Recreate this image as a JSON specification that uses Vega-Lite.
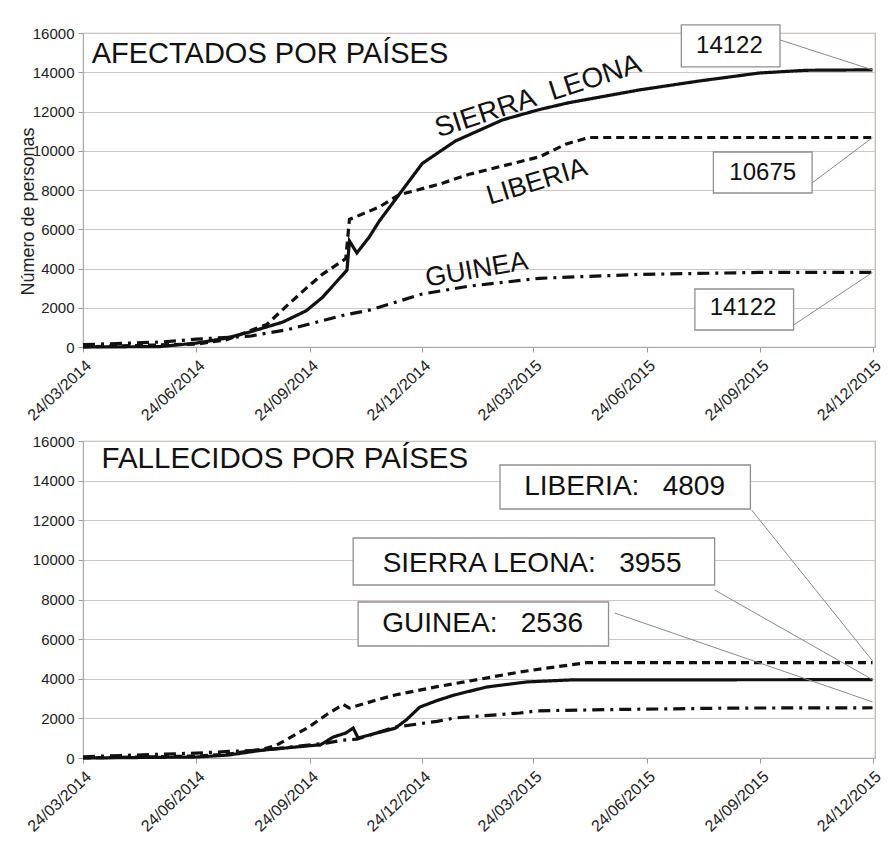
{
  "$schema": "https://vega.github.io/schema/vega-lite/v6.json",
  "background": "white",
  "padding": {"left": 18, "top": 23, "right": 5, "bottom": 5},
  "spacing": 94,
  "bounds": "flush",
  "config": {
    "font": "Liberation Sans",
    "view": {"stroke": "#bdb6b2", "strokeWidth": 1.2},
    "axisY": {
      "labelFont": "Liberation Sans", "titleFont": "Liberation Sans",
      "labelFontSize": 15, "labelColor": "#222", "gridColor": "#cdc6c2", "gridWidth": 1.2,
      "tickColor": "#999", "domainColor": "#aaa", "tickSize": 5, "labelPadding": 4,
      "titleFontSize": 18, "titleFontWeight": "normal", "titleColor": "#222"
    },
    "axisX": {
      "labelFont": "Liberation Sans", "labelAngle": -43, "labelFontSize": 16, "labelColor": "#222",
      "grid": false, "tickColor": "#999", "domainColor": "#aaa", "tickSize": 5,
      "labelOverlap": false, "labelBound": false, "labelFlush": false, "labelPadding": 5
    }
  },
  "datasets": {
    "afectados": [
      {"date": "2014-03-24", "country": "SIERRA LEONA", "value": 0},
      {"date": "2014-05-25", "country": "SIERRA LEONA", "value": 20},
      {"date": "2014-06-24", "country": "SIERRA LEONA", "value": 200},
      {"date": "2014-07-18", "country": "SIERRA LEONA", "value": 450},
      {"date": "2014-08-06", "country": "SIERRA LEONA", "value": 760},
      {"date": "2014-09-02", "country": "SIERRA LEONA", "value": 1270},
      {"date": "2014-09-21", "country": "SIERRA LEONA", "value": 1850},
      {"date": "2014-10-04", "country": "SIERRA LEONA", "value": 2520},
      {"date": "2014-10-24", "country": "SIERRA LEONA", "value": 3920},
      {"date": "2014-10-26", "country": "SIERRA LEONA", "value": 5400},
      {"date": "2014-11-01", "country": "SIERRA LEONA", "value": 4790},
      {"date": "2014-11-11", "country": "SIERRA LEONA", "value": 5600},
      {"date": "2014-11-19", "country": "SIERRA LEONA", "value": 6400},
      {"date": "2014-12-05", "country": "SIERRA LEONA", "value": 7750},
      {"date": "2014-12-24", "country": "SIERRA LEONA", "value": 9350},
      {"date": "2015-01-07", "country": "SIERRA LEONA", "value": 9950},
      {"date": "2015-01-20", "country": "SIERRA LEONA", "value": 10500},
      {"date": "2015-02-27", "country": "SIERRA LEONA", "value": 11570},
      {"date": "2015-03-29", "country": "SIERRA LEONA", "value": 12100},
      {"date": "2015-04-22", "country": "SIERRA LEONA", "value": 12450},
      {"date": "2015-06-18", "country": "SIERRA LEONA", "value": 13100},
      {"date": "2015-08-05", "country": "SIERRA LEONA", "value": 13550},
      {"date": "2015-09-23", "country": "SIERRA LEONA", "value": 13960},
      {"date": "2015-10-31", "country": "SIERRA LEONA", "value": 14100},
      {"date": "2015-12-24", "country": "SIERRA LEONA", "value": 14122},
      {"date": "2014-03-24", "country": "LIBERIA", "value": 0},
      {"date": "2014-04-23", "country": "LIBERIA", "value": 60},
      {"date": "2014-06-24", "country": "LIBERIA", "value": 150},
      {"date": "2014-07-18", "country": "LIBERIA", "value": 360},
      {"date": "2014-08-20", "country": "LIBERIA", "value": 1150},
      {"date": "2014-09-07", "country": "LIBERIA", "value": 2200},
      {"date": "2014-09-21", "country": "LIBERIA", "value": 3000},
      {"date": "2014-10-04", "country": "LIBERIA", "value": 3700},
      {"date": "2014-10-23", "country": "LIBERIA", "value": 4500},
      {"date": "2014-10-26", "country": "LIBERIA", "value": 6500},
      {"date": "2014-11-19", "country": "LIBERIA", "value": 7130},
      {"date": "2014-12-05", "country": "LIBERIA", "value": 7750},
      {"date": "2015-01-07", "country": "LIBERIA", "value": 8300},
      {"date": "2015-01-31", "country": "LIBERIA", "value": 8800},
      {"date": "2015-03-29", "country": "LIBERIA", "value": 9690},
      {"date": "2015-04-20", "country": "LIBERIA", "value": 10350},
      {"date": "2015-05-08", "country": "LIBERIA", "value": 10675},
      {"date": "2015-12-24", "country": "LIBERIA", "value": 10675},
      {"date": "2014-03-24", "country": "GUINEA", "value": 120},
      {"date": "2014-05-25", "country": "GUINEA", "value": 250},
      {"date": "2014-06-24", "country": "GUINEA", "value": 400},
      {"date": "2014-08-06", "country": "GUINEA", "value": 550},
      {"date": "2014-09-07", "country": "GUINEA", "value": 900},
      {"date": "2014-10-22", "country": "GUINEA", "value": 1630},
      {"date": "2014-11-12", "country": "GUINEA", "value": 1890},
      {"date": "2014-12-24", "country": "GUINEA", "value": 2700},
      {"date": "2015-01-31", "country": "GUINEA", "value": 3100},
      {"date": "2015-03-29", "country": "GUINEA", "value": 3500},
      {"date": "2015-06-18", "country": "GUINEA", "value": 3700},
      {"date": "2015-09-23", "country": "GUINEA", "value": 3800},
      {"date": "2015-12-24", "country": "GUINEA", "value": 3804}
    ],
    "fallecidos": [
      {"date": "2014-03-24", "country": "SIERRA LEONA", "value": 0},
      {"date": "2014-06-24", "country": "SIERRA LEONA", "value": 50},
      {"date": "2014-07-20", "country": "SIERRA LEONA", "value": 150},
      {"date": "2014-08-17", "country": "SIERRA LEONA", "value": 400},
      {"date": "2014-09-29", "country": "SIERRA LEONA", "value": 650},
      {"date": "2014-10-02", "country": "SIERRA LEONA", "value": 650},
      {"date": "2014-10-13", "country": "SIERRA LEONA", "value": 1060},
      {"date": "2014-10-23", "country": "SIERRA LEONA", "value": 1260},
      {"date": "2014-10-29", "country": "SIERRA LEONA", "value": 1510},
      {"date": "2014-11-02", "country": "SIERRA LEONA", "value": 1010},
      {"date": "2014-11-17", "country": "SIERRA LEONA", "value": 1260},
      {"date": "2014-12-02", "country": "SIERRA LEONA", "value": 1500},
      {"date": "2014-12-11", "country": "SIERRA LEONA", "value": 1920},
      {"date": "2014-12-22", "country": "SIERRA LEONA", "value": 2570},
      {"date": "2015-01-05", "country": "SIERRA LEONA", "value": 2900},
      {"date": "2015-01-19", "country": "SIERRA LEONA", "value": 3180},
      {"date": "2015-02-14", "country": "SIERRA LEONA", "value": 3580},
      {"date": "2015-03-19", "country": "SIERRA LEONA", "value": 3840},
      {"date": "2015-04-23", "country": "SIERRA LEONA", "value": 3940},
      {"date": "2015-12-24", "country": "SIERRA LEONA", "value": 3955},
      {"date": "2014-03-24", "country": "LIBERIA", "value": 0},
      {"date": "2014-06-24", "country": "LIBERIA", "value": 100},
      {"date": "2014-07-20", "country": "LIBERIA", "value": 200},
      {"date": "2014-08-17", "country": "LIBERIA", "value": 450},
      {"date": "2014-08-28", "country": "LIBERIA", "value": 650},
      {"date": "2014-09-23", "country": "LIBERIA", "value": 1560},
      {"date": "2014-10-07", "country": "LIBERIA", "value": 2170},
      {"date": "2014-10-21", "country": "LIBERIA", "value": 2700},
      {"date": "2014-10-26", "country": "LIBERIA", "value": 2520},
      {"date": "2014-11-17", "country": "LIBERIA", "value": 2930},
      {"date": "2014-12-02", "country": "LIBERIA", "value": 3180},
      {"date": "2015-01-05", "country": "LIBERIA", "value": 3600},
      {"date": "2015-01-19", "country": "LIBERIA", "value": 3750},
      {"date": "2015-03-13", "country": "LIBERIA", "value": 4340},
      {"date": "2015-04-10", "country": "LIBERIA", "value": 4590},
      {"date": "2015-05-06", "country": "LIBERIA", "value": 4809},
      {"date": "2015-12-24", "country": "LIBERIA", "value": 4809},
      {"date": "2014-03-24", "country": "GUINEA", "value": 60},
      {"date": "2014-06-24", "country": "GUINEA", "value": 250},
      {"date": "2014-07-20", "country": "GUINEA", "value": 330},
      {"date": "2014-08-17", "country": "GUINEA", "value": 400},
      {"date": "2014-10-07", "country": "GUINEA", "value": 750},
      {"date": "2014-10-20", "country": "GUINEA", "value": 900},
      {"date": "2014-11-01", "country": "GUINEA", "value": 950},
      {"date": "2014-12-02", "country": "GUINEA", "value": 1560},
      {"date": "2015-01-05", "country": "GUINEA", "value": 1850},
      {"date": "2015-01-19", "country": "GUINEA", "value": 2020},
      {"date": "2015-03-13", "country": "GUINEA", "value": 2270},
      {"date": "2015-03-27", "country": "GUINEA", "value": 2380},
      {"date": "2015-06-02", "country": "GUINEA", "value": 2450},
      {"date": "2015-09-01", "country": "GUINEA", "value": 2520},
      {"date": "2015-12-24", "country": "GUINEA", "value": 2536}
    ],
    "top_boxes": [
      {"date": "2015-07-22", "date2": "2015-10-10", "value": 14270, "value2": 16410},
      {"date": "2015-08-17", "date2": "2015-11-05", "value": 7848, "value2": 9937},
      {"date": "2015-08-02", "date2": "2015-10-21", "value": 866, "value2": 2956}
    ],
    "top_leaders": [
      {"date": "2015-10-10", "date2": "2015-12-24", "value": 15645, "value2": 14122},
      {"date": "2015-11-05", "date2": "2015-12-24", "value": 8357, "value2": 10675},
      {"date": "2015-10-21", "date2": "2015-12-24", "value": 1121, "value2": 3804}
    ],
    "top_numbers": [
      {"date": "2015-08-30", "value": 14982, "label": "14122"},
      {"date": "2015-09-26", "value": 8510, "label": "10675"},
      {"date": "2015-09-10", "value": 1631, "label": "14122"}
    ],
    "top_title": [
      {"date": "2014-03-31", "value": 14473, "label": "AFECTADOS POR PAÍSES"}
    ],
    "top_countries": [
      {"date": "2015-03-28", "value": 12750, "label": "SIERRA\u00a0\u00a0LEONA"},
      {"date": "2015-03-27", "value": 8408, "label": "LIBERIA"},
      {"date": "2015-02-06", "value": 3924, "label": "GUINEA"}
    ],
    "bottom_boxes": [
      {"date": "2015-02-25", "date2": "2015-09-16", "value": 12567, "value2": 14788},
      {"date": "2014-10-29", "date2": "2015-08-18", "value": 8731, "value2": 11103},
      {"date": "2014-11-02", "date2": "2015-05-24", "value": 5653, "value2": 7873}
    ],
    "bottom_leaders": [
      {"date": "2015-09-17", "date2": "2015-12-24", "value": 12517, "value2": 4900},
      {"date": "2015-08-18", "date2": "2015-12-24", "value": 8479, "value2": 3955},
      {"date": "2015-05-29", "date2": "2015-12-24", "value": 7318, "value2": 2830}
    ],
    "bottom_labels": [
      {"date": "2015-06-06", "value": 13274, "label": "LIBERIA:\u00a0\u00a0\u00a04809"},
      {"date": "2015-03-23", "value": 9387, "label": "SIERRA LEONA:\u00a0\u00a0\u00a03955"},
      {"date": "2015-02-11", "value": 6359, "label": "GUINEA:\u00a0\u00a0\u00a02536"}
    ],
    "bottom_title": [
      {"date": "2014-04-08", "value": 14636, "label": "FALLECIDOS POR PAÍSES"}
    ]
  },
  "vconcat": [
    {
      "width": 792,
      "height": 314,
      "layer": [
        {
          "data": {"name": "afectados"},
          "mark": {"type": "line", "color": "#111", "strokeWidth": 3.2},
          "encoding": {
            "x": {
              "field": "date", "type": "temporal", "title": null,
              "scale": {"type": "utc", "domain": [{"year": 2014, "month": 3, "date": 24, "utc": true}, {"year": 2015, "month": 12, "date": 26, "utc": true}]},
              "axis": {
                "values": [
                  {"year": 2014, "month": 3, "date": 24, "utc": true},
                  {"year": 2014, "month": 6, "date": 24, "utc": true},
                  {"year": 2014, "month": 9, "date": 24, "utc": true},
                  {"year": 2014, "month": 12, "date": 24, "utc": true},
                  {"year": 2015, "month": 3, "date": 24, "utc": true},
                  {"year": 2015, "month": 6, "date": 24, "utc": true},
                  {"year": 2015, "month": 9, "date": 24, "utc": true},
                  {"year": 2015, "month": 12, "date": 24, "utc": true}
                ],
                "format": "%d/%m/%Y"
              }
            },
            "y": {
              "field": "value", "type": "quantitative", "title": "Número de personas",
              "scale": {"domain": [0, 16000]},
              "axis": {"values": [0, 2000, 4000, 6000, 8000, 10000, 12000, 14000, 16000], "format": "d", "titleX": -50, "titleY": 178, "titleBaseline": "alphabetic"}
            },
            "detail": {"field": "country"},
            "strokeDash": {
              "field": "country", "type": "nominal", "legend": null,
              "scale": {"domain": ["SIERRA LEONA", "LIBERIA", "GUINEA"], "range": [[1, 0], [8, 5], [12, 6, 3, 6]]}
            }
          }
        },
        {
          "data": {"name": "top_leaders"},
          "mark": {"type": "rule", "color": "#8a8a8a", "strokeWidth": 1},
          "encoding": {
            "x": {"field": "date", "type": "temporal", "title": null},
            "x2": {"field": "date2"},
            "y": {"field": "value", "type": "quantitative", "title": "Número de personas", "axis": {"values": [0, 2000, 4000, 6000, 8000, 10000, 12000, 14000, 16000], "format": "d", "titleX": -50, "titleY": 178, "titleBaseline": "alphabetic"}},
            "y2": {"field": "value2"}
          }
        },
        {
          "data": {"name": "top_boxes"},
          "mark": {"type": "rect", "fill": "white", "stroke": "#8f8f8f", "strokeWidth": 1.3},
          "encoding": {
            "x": {"field": "date", "type": "temporal", "title": null},
            "x2": {"field": "date2"},
            "y": {"field": "value", "type": "quantitative", "title": "Número de personas", "axis": {"values": [0, 2000, 4000, 6000, 8000, 10000, 12000, 14000, 16000], "format": "d", "titleX": -50, "titleY": 178, "titleBaseline": "alphabetic"}},
            "y2": {"field": "value2"}
          }
        },
        {
          "data": {"name": "top_numbers"},
          "mark": {"type": "text", "fontSize": 24, "color": "#111", "align": "center", "baseline": "alphabetic"},
          "encoding": {
            "x": {"field": "date", "type": "temporal", "title": null},
            "y": {"field": "value", "type": "quantitative", "title": "Número de personas", "axis": {"values": [0, 2000, 4000, 6000, 8000, 10000, 12000, 14000, 16000], "format": "d", "titleX": -50, "titleY": 178, "titleBaseline": "alphabetic"}},
            "text": {"field": "label"}
          }
        },
        {
          "data": {"name": "top_title"},
          "mark": {"type": "text", "fontSize": 29, "color": "#111", "align": "left", "baseline": "alphabetic"},
          "encoding": {
            "x": {"field": "date", "type": "temporal", "title": null},
            "y": {"field": "value", "type": "quantitative", "title": "Número de personas", "axis": {"values": [0, 2000, 4000, 6000, 8000, 10000, 12000, 14000, 16000], "format": "d", "titleX": -50, "titleY": 178, "titleBaseline": "alphabetic"}},
            "text": {"field": "label"}
          }
        },
        {
          "data": {"name": "top_countries"},
          "transform": [{"filter": "datum.label == 'LIBERIA' || datum.label == 'GUINEA' ? false : true"}],
          "mark": {"type": "text", "fontSize": 28, "color": "#111", "align": "center", "baseline": "middle", "angle": -18},
          "encoding": {
            "x": {"field": "date", "type": "temporal", "title": null},
            "y": {"field": "value", "type": "quantitative", "title": "Número de personas", "axis": {"values": [0, 2000, 4000, 6000, 8000, 10000, 12000, 14000, 16000], "format": "d", "titleX": -50, "titleY": 178, "titleBaseline": "alphabetic"}},
            "text": {"field": "label"}
          }
        },
        {
          "data": {"name": "top_countries"},
          "transform": [{"filter": "datum.label == 'LIBERIA'"}],
          "mark": {"type": "text", "fontSize": 27, "color": "#111", "align": "center", "baseline": "middle", "angle": -17},
          "encoding": {
            "x": {"field": "date", "type": "temporal", "title": null},
            "y": {"field": "value", "type": "quantitative", "title": "Número de personas", "axis": {"values": [0, 2000, 4000, 6000, 8000, 10000, 12000, 14000, 16000], "format": "d", "titleX": -50, "titleY": 178, "titleBaseline": "alphabetic"}},
            "text": {"field": "label"}
          }
        },
        {
          "data": {"name": "top_countries"},
          "transform": [{"filter": "datum.label == 'GUINEA'"}],
          "mark": {"type": "text", "fontSize": 27, "color": "#111", "align": "center", "baseline": "middle", "angle": -10},
          "encoding": {
            "x": {"field": "date", "type": "temporal", "title": null},
            "y": {"field": "value", "type": "quantitative", "title": "Número de personas", "axis": {"values": [0, 2000, 4000, 6000, 8000, 10000, 12000, 14000, 16000], "format": "d", "titleX": -50, "titleY": 178, "titleBaseline": "alphabetic"}},
            "text": {"field": "label"}
          }
        }
      ]
    },
    {
      "width": 792,
      "height": 317,
      "layer": [
        {
          "data": {"name": "fallecidos"},
          "mark": {"type": "line", "color": "#111", "strokeWidth": 3.2},
          "encoding": {
            "x": {
              "field": "date", "type": "temporal", "title": null,
              "scale": {"type": "utc", "domain": [{"year": 2014, "month": 3, "date": 24, "utc": true}, {"year": 2015, "month": 12, "date": 26, "utc": true}]},
              "axis": {
                "values": [
                  {"year": 2014, "month": 3, "date": 24, "utc": true},
                  {"year": 2014, "month": 6, "date": 24, "utc": true},
                  {"year": 2014, "month": 9, "date": 24, "utc": true},
                  {"year": 2014, "month": 12, "date": 24, "utc": true},
                  {"year": 2015, "month": 3, "date": 24, "utc": true},
                  {"year": 2015, "month": 6, "date": 24, "utc": true},
                  {"year": 2015, "month": 9, "date": 24, "utc": true},
                  {"year": 2015, "month": 12, "date": 24, "utc": true}
                ],
                "format": "%d/%m/%Y"
              }
            },
            "y": {
              "field": "value", "type": "quantitative", "title": null,
              "scale": {"domain": [0, 16000]},
              "axis": {"values": [0, 2000, 4000, 6000, 8000, 10000, 12000, 14000, 16000], "format": "d"}
            },
            "detail": {"field": "country"},
            "strokeDash": {
              "field": "country", "type": "nominal", "legend": null,
              "scale": {"domain": ["SIERRA LEONA", "LIBERIA", "GUINEA"], "range": [[1, 0], [8, 5], [12, 6, 3, 6]]}
            }
          }
        },
        {
          "data": {"name": "bottom_leaders"},
          "mark": {"type": "rule", "color": "#8a8a8a", "strokeWidth": 1},
          "encoding": {
            "x": {"field": "date", "type": "temporal", "title": null},
            "x2": {"field": "date2"},
            "y": {"field": "value", "type": "quantitative", "title": null, "axis": {"values": [0, 2000, 4000, 6000, 8000, 10000, 12000, 14000, 16000], "format": "d"}},
            "y2": {"field": "value2"}
          }
        },
        {
          "data": {"name": "bottom_boxes"},
          "mark": {"type": "rect", "fill": "white", "stroke": "#8f8f8f", "strokeWidth": 1.3},
          "encoding": {
            "x": {"field": "date", "type": "temporal", "title": null},
            "x2": {"field": "date2"},
            "y": {"field": "value", "type": "quantitative", "title": null, "axis": {"values": [0, 2000, 4000, 6000, 8000, 10000, 12000, 14000, 16000], "format": "d"}},
            "y2": {"field": "value2"}
          }
        },
        {
          "data": {"name": "bottom_labels"},
          "mark": {"type": "text", "fontSize": 28, "color": "#111", "align": "center", "baseline": "alphabetic"},
          "encoding": {
            "x": {"field": "date", "type": "temporal", "title": null},
            "y": {"field": "value", "type": "quantitative", "title": null, "axis": {"values": [0, 2000, 4000, 6000, 8000, 10000, 12000, 14000, 16000], "format": "d"}},
            "text": {"field": "label"}
          }
        },
        {
          "data": {"name": "bottom_title"},
          "mark": {"type": "text", "fontSize": 29.5, "color": "#111", "align": "left", "baseline": "alphabetic"},
          "encoding": {
            "x": {"field": "date", "type": "temporal", "title": null},
            "y": {"field": "value", "type": "quantitative", "title": null, "axis": {"values": [0, 2000, 4000, 6000, 8000, 10000, 12000, 14000, 16000], "format": "d"}},
            "text": {"field": "label"}
          }
        }
      ]
    }
  ]
}
